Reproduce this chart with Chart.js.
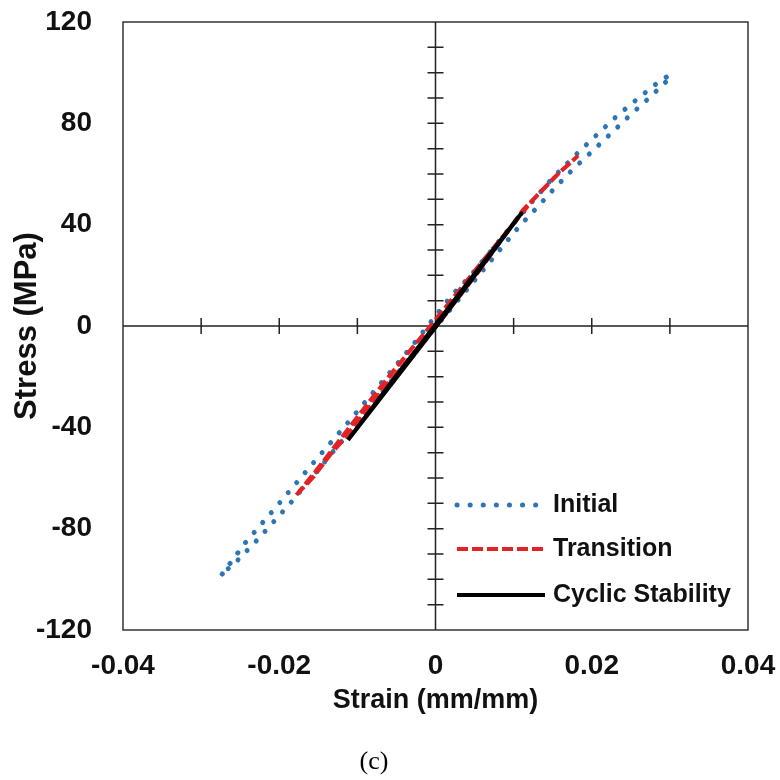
<!DOCTYPE html>
<html>
<head>
<meta charset="utf-8">
<script src="https://cdn.jsdelivr.net/npm/chart.js@4.4.1/dist/chart.umd.min.js"></script>
<style>
  html, body { margin: 0; padding: 0; background: #fff; }
  #wrap { width: 780px; height: 780px; position: relative; }
</style>
</head>
<body>
<div id="wrap"><canvas id="stressStrain"></canvas></div>
<script>
// strain (mm/mm) and stress (MPa)
// each series is a thin hysteresis loop: up one branch, back down the other
const initialStrain = [-0.0273, -0.0243, -0.0200, -0.0158, -0.0115, -0.0072, -0.0030, -0.0009, 0.0021, 0.0044, 0.0100, 0.0150, 0.0186, 0.0210, 0.0234, 0.0260, 0.0285, 0.0300,
    0.0296, 0.0272, 0.0248, 0.0224, 0.0200, 0.0176, 0.0153, 0.0131, 0.0108, 0.0050, 0.0000, -0.0060, -0.0120, -0.0187, -0.0209, -0.0231, -0.0254, -0.0273];
const initialStress = [-97.9, -85.4, -70.0, -54.6, -39.2, -23.4, -7.9, 0.4, 12.2, 19.5, 40.5, 58.5, 69.5, 76.5, 83.4, 90.0, 96.2, 99.2,
    96.7, 89.6, 82.9, 75.8, 68.8, 61.9, 54.6, 47.1, 39.6, 18.0, -0.5, -23.0, -45.5, -70.4, -77.9, -85.4, -92.7, -97.9];

const transitionStrain = [-0.0178, -0.0156, -0.0135, -0.0114, -0.0060, 0.0000, 0.0060, 0.0112, 0.0151, 0.0181, 0.0160, 0.0124, 0.0060, 0.0000, -0.0060, -0.0114, -0.0150, -0.0178];
const transitionStress = [-66.7, -59.5, -50.9, -43.5, -22.5, -0.5, 23.5, 45.8, 58.3, 66.8, 61.0, 49.5, 25.5, 2.5, -20.0, -41.5, -56.0, -66.7];

const stableStrain = [-0.0112, -0.0056, 0.0000, 0.0055, 0.0110, 0.0055, 0.0000, -0.0056, -0.0112];
const stableStress = [-45.0, -22.8, -0.5, 21.8, 44.5, 22.6, 0.5, -22.0, -45.0];

const seriesLabels = ['Initial', 'Transition', 'Cyclic Stability'];
const xTickValues = [-0.04, -0.02, 0, 0.02, 0.04];
const xTickLabels = ['-0.04', '-0.02', '0', '0.02', '0.04'];
const yTickValues = [-120, -80, -40, 0, 40, 80, 120];
const yTickLabels = ['-120', '-80', '-40', '0', '40', '80', '120'];

function toPoints(xs, ys) {
    return xs.map((v, i) => ({ x: v, y: ys[i] }));
}

// keep the plot box where the layout padding puts it
function noLabelOverhang(s) {
    s.paddingLeft = 0;
    s.paddingRight = 0;
    s.paddingTop = 0;
    s.paddingBottom = 0;
}

// axes through the origin with crossing ticks, plus the frame
const centerAxes = {
    id: 'centerAxes',
    beforeDatasetsDraw(chart) {
        const { ctx, chartArea: a, scales } = chart;
        const x0 = scales.x.getPixelForValue(0);
        const y0 = scales.y.getPixelForValue(0);
        ctx.save();
        ctx.strokeStyle = '#333';
        ctx.lineWidth = 1.5;
        ctx.strokeRect(a.left, a.top, a.width, a.height);
        ctx.strokeStyle = '#222';
        ctx.beginPath();
        ctx.moveTo(a.left, y0);
        ctx.lineTo(a.right, y0);
        ctx.moveTo(x0, a.top);
        ctx.lineTo(x0, a.bottom);
        for (let k = -3; k <= 3; k++) {
            if (k === 0) continue;
            const px = scales.x.getPixelForValue(k * 0.01);
            ctx.moveTo(px, y0 - 8);
            ctx.lineTo(px, y0 + 8);
        }
        for (let k = -11; k <= 11; k++) {
            if (k === 0) continue;
            const py = scales.y.getPixelForValue(k * 10);
            ctx.moveTo(x0 - 8, py);
            ctx.lineTo(x0 + 8, py);
        }
        ctx.stroke();
        ctx.restore();
    }
};

// legend sitting inside the plot, lower right
const legendInside = {
    id: 'legendInside',
    afterDatasetsDraw(chart) {
        const ctx = chart.ctx;
        const a = chart.chartArea;
        const x0 = a.left + 334;
        const x1 = x0 + 88;
        const rows = [a.top + 483, a.top + 527, a.top + 573];
        chart.data.datasets.forEach((ds, i) => {
            const y = rows[i];
            ctx.save();
            ctx.strokeStyle = ds.borderColor;
            ctx.lineWidth = ds.borderWidth;
            ctx.lineCap = ds.borderCapStyle || 'butt';
            ctx.setLineDash(ds.borderDash || []);
            ctx.beginPath();
            ctx.moveTo(x0, y);
            ctx.lineTo(x1, y);
            ctx.stroke();
            ctx.setLineDash([]);
            ctx.fillStyle = '#111';
            ctx.font = 'bold 25px "Liberation Sans", Arial, sans-serif';
            ctx.textBaseline = 'middle';
            ctx.textAlign = 'left';
            ctx.fillText(ds.label, x1 + 8, y);
            ctx.restore();
        });
    }
};

const tickFont = { family: '"Liberation Sans", Arial, sans-serif', size: 28, weight: 'bold' };

new Chart(document.getElementById('stressStrain'), {
    type: 'scatter',
    data: {
        datasets: [
            {
                label: seriesLabels[0],
                data: toPoints(initialStrain, initialStress),
                showLine: true,
                borderColor: '#2E75B6',
                borderWidth: 5,
                borderDash: [0.1, 13],
                borderCapStyle: 'round',
                pointRadius: 0,
                order: 3
            },
            {
                label: seriesLabels[1],
                data: toPoints(transitionStrain, transitionStress),
                showLine: true,
                borderColor: '#E32227',
                borderWidth: 4,
                borderDash: [11, 4],
                borderJoinStyle: 'round',
                pointRadius: 0,
                order: 2
            },
            {
                label: seriesLabels[2],
                data: toPoints(stableStrain, stableStress),
                showLine: true,
                borderColor: '#000000',
                borderWidth: 4,
                borderJoinStyle: 'round',
                pointRadius: 0,
                order: 1
            }
        ]
    },
    options: {
        responsive: true,
        maintainAspectRatio: false,
        animation: false,
        events: [],
        layout: { padding: { left: 0, top: 22, right: 32, bottom: 0 } },
        plugins: {
            legend: { display: false },
            tooltip: { enabled: false },
            title: {
                display: true,
                text: '(c)',
                position: 'bottom',
                color: '#000',
                font: { family: '"Liberation Serif", "Times New Roman", serif', size: 26, weight: 'normal' },
                padding: { top: 0, bottom: 2.4 }
            }
        },
        scales: {
            x: {
                type: 'linear',
                position: 'bottom',
                min: -0.04,
                max: 0.04,
                grid: { display: false, drawTicks: false },
                border: { display: false },
                afterBuildTicks: s => { s.ticks = xTickValues.map(v => ({ value: v })); },
                afterFit: s => { s.height = 116.4; noLabelOverhang(s); },
                ticks: {
                    padding: 19,
                    color: '#111',
                    font: tickFont,
                    maxRotation: 0,
                    autoSkip: false,
                    callback: v => xTickLabels[xTickValues.indexOf(v)]
                },
                title: {
                    display: true,
                    text: 'Strain (mm/mm)',
                    color: '#111',
                    font: { family: '"Liberation Sans", Arial, sans-serif', size: 27, weight: 'bold' },
                    padding: { top: 0, bottom: 30 }
                }
            },
            y: {
                type: 'linear',
                position: 'left',
                min: -120,
                max: 120,
                grid: { display: false, drawTicks: false },
                border: { display: false },
                afterBuildTicks: s => { s.ticks = yTickValues.map(v => ({ value: v })); },
                afterFit: s => { s.width = 123; noLabelOverhang(s); },
                ticks: {
                    padding: 31,
                    color: '#111',
                    font: tickFont,
                    autoSkip: false,
                    callback: v => yTickLabels[yTickValues.indexOf(v)]
                },
                title: {
                    display: true,
                    text: 'Stress (MPa)',
                    color: '#111',
                    font: { family: '"Liberation Sans", Arial, sans-serif', size: 31, weight: 'bold' },
                    padding: { top: 9, bottom: 0 }
                }
            }
        }
    },
    plugins: [centerAxes, legendInside]
});
</script>
</body>
</html>
